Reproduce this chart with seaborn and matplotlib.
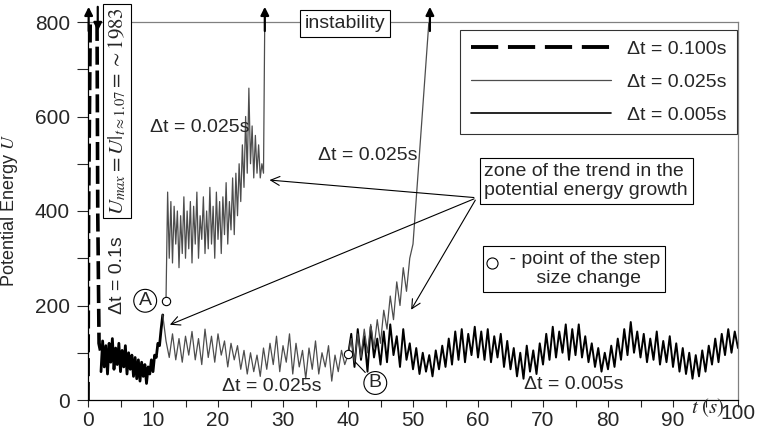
import numpy as np
import matplotlib
matplotlib.use("Agg")
import matplotlib.pyplot as plt
from matplotlib.lines import Line2D
import seaborn as sns

# ---- data ----
# dt = 0.1 s start-up spike (goes to ~1983 at t=1.07)
t_spike = [0.0, 0.1, 1.07, 1.5, 1.7, 2.0]
u_spike = [0, 400, 1983, 400, 120, 100]

# dt = 0.1 s noisy segment, t = 2 .. 11.5 step 0.25
t0_01, dt_01 = 2.0, 0.25
u_01 = [60, 125, 70, 115, 55, 120, 80, 130, 65, 110,
        75, 120, 60, 105, 70, 115, 55, 100, 65, 95,
        50, 90, 45, 85, 40, 80, 50, 75, 35, 70,
        55, 85, 60, 95, 90, 120, 115, 150, 180]

# dt = 0.025 s, lower branch after A, t = 11.5 .. 40 step 0.5
t0_low, dt_low = 11.5, 0.5
u_low = [180, 125, 90, 140, 85, 130, 80, 135, 95, 145,
         85, 130, 75, 150, 90, 135, 80, 140, 95, 125,
         70, 120, 85, 115, 65, 105, 55, 100, 60, 95,
         50, 110, 65, 120, 75, 135, 60, 115, 80, 140,
         55, 120, 70, 105, 45, 110, 65, 125, 55, 100,
         70, 115, 40, 95, 60, 105, 75, 95]

# dt = 0.025 s, unstable branch from A, t = 12 .. 27.25 step 0.25
t0_up, dt_up = 12.0, 0.25
u_up = [210, 440, 300, 420, 290, 410, 330, 400, 280,
        390, 310, 430, 300, 400, 320, 420, 290,
        410, 330, 440, 300, 390, 340, 430, 310,
        400, 320, 450, 330, 410, 300, 440, 340,
        420, 310, 430, 350, 460, 330, 420, 360,
        470, 350, 480, 390, 500, 420, 540, 450,
        600, 480, 660, 500, 580, 470, 560, 480,
        540, 470, 500, 480, 900]

# dt = 0.025 s, unstable branch from B
t_b = [40, 40.5, 41, 41.5, 42, 42.5, 43, 43.5, 44, 44.5, 45, 45.5, 46,
       46.5, 47, 47.5, 48, 48.5, 49, 49.5, 50, 52.6]
u_b = [97, 130, 80, 140, 90, 150, 100, 160, 110, 170, 120, 190, 150,
       220, 170, 250, 200, 280, 230, 300, 330, 830]

# dt = 0.005 s after B, t = 40 .. 100 step 0.5
t0_005, dt_005 = 40.0, 0.5
u_005 = [95, 140, 70, 150, 85, 135, 60, 155, 90, 130, 75,
         145, 80, 160, 95, 135, 70, 150, 85, 120, 65,
         110, 55, 100, 60, 95, 50, 105, 65, 115, 70,
         130, 75, 145, 85, 150, 80, 140, 95, 155, 90,
         145, 85, 150, 80, 135, 90, 140, 70, 125, 65,
         110, 50, 100, 45, 115, 60, 105, 55, 120, 75,
         140, 85, 155, 90, 145, 100, 160, 85, 150, 95,
         160, 90, 135, 80, 120, 70, 110, 60, 100, 65,
         115, 70, 130, 85, 150, 95, 165, 100, 145, 90,
         140, 80, 130, 85, 145, 75, 125, 80, 135, 70,
         120, 60, 110, 55, 100, 45, 95, 50, 105, 60,
         115, 75, 130, 80, 140, 95, 150, 100, 145, 110]

# step size change points (A, B)
t_change = [12.0, 40.0]
u_change = [210, 97]

legend_labels = ["Δt = 0.100s", "Δt = 0.025s", "Δt = 0.005s"]

# ---- plotting ----
sns.set_style("ticks")
plt.rcParams['font.family'] = ['Liberation Sans', 'DejaVu Sans']
plt.rcParams['mathtext.fontset'] = 'stix'

fig = plt.figure(figsize=(7.57, 4.38), dpi=100)
ax = fig.add_axes([88 / 757, 38 / 438, 650 / 757, 378 / 438])

grey = "#4d4d4d"
dash = (0, (5, 1.6))

sns.lineplot(x=t_spike, y=u_spike, ax=ax, color="black", lw=2.6,
             linestyle=dash, estimator=None, sort=False)
t_01 = t0_01 + dt_01 * np.arange(len(u_01))
sns.lineplot(x=t_01, y=u_01, ax=ax, color="black", lw=2.0, estimator=None, sort=False)
t_low = t0_low + dt_low * np.arange(len(u_low))
sns.lineplot(x=t_low, y=u_low, ax=ax, color=grey, lw=0.9, estimator=None, sort=False)
t_up = t0_up + dt_up * np.arange(len(u_up))
sns.lineplot(x=t_up, y=u_up, ax=ax, color=grey, lw=0.9, estimator=None, sort=False)
t_005 = t0_005 + dt_005 * np.arange(len(u_005))
sns.lineplot(x=t_005, y=u_005, ax=ax, color="black", lw=1.4, estimator=None, sort=False)
sns.lineplot(x=t_b, y=u_b, ax=ax, color=grey, lw=0.9, estimator=None, sort=False)
ax.plot(t_change, u_change, 'o', ms=6, mfc="white", mec="black", mew=0.8, zorder=5)

ax.set_xlim(0, 100)
ax.set_ylim(0, 800)
ax.set_xticks(np.arange(0, 101, 10))
ax.set_xticks(np.arange(0, 101, 5), minor=True)
ax.set_yticks(np.arange(0, 801, 200))
ax.set_yticks(np.arange(0, 801, 100), minor=True)
ax.tick_params(axis='x', which='both', direction='out', length=5, width=0.8, labelsize=15, pad=3)
ax.tick_params(axis='y', which='both', direction='out', length=8, width=0.8, labelsize=15, pad=5)
ax.xaxis.set_ticklabels(["0", "10", "20", "30", "40", "50", "60", "70", "80", "90", ""])
for s in ["top", "right"]:
    ax.spines[s].set_color("#808080")
    ax.spines[s].set_linewidth(0.9)
for s in ["left", "bottom"]:
    ax.spines[s].set_color("black")
    ax.spines[s].set_linewidth(0.9)

ax.set_ylabel(r"Potential Energy $U$", fontsize=13)
ax.yaxis.set_label_coords(-0.105, 0.5)
ax.set_xlabel("")
ax.text(95.3, -16, r"$t\ (s)$", fontsize=15, ha="center", va="center", clip_on=False)
ax.text(100, -28, "100", fontsize=15, ha="center", va="center", clip_on=False)

# arrows at the top (instability)
for x, up in [(0.1, True), (1.5, False), (27.2, True), (52.6, True)]:
    y0, y1 = (775, 838) if up else (838, 775)
    ax.annotate("", xy=(x, y1), xytext=(x, y0), annotation_clip=False,
                arrowprops=dict(arrowstyle="-|>", color="black", lw=1.6, mutation_scale=12))

box = dict(boxstyle="square,pad=0.25", fc="white", ec="black", lw=0.8)
ax.text(39.5, 797, "instability", fontsize=14, ha="center", va="center", bbox=box, zorder=6)

ax.text(4.5, 612, r"$U_{max} = U|_{t\approx1.07} = \sim1983$", fontsize=15, rotation=90,
        ha="center", va="center", bbox=dict(boxstyle="square,pad=0.15", fc="white", ec="black", lw=0.8))
ax.text(4.6, 265, "Δt = 0.1s", fontsize=14, rotation=90, ha="center", va="center")

ax.text(17.2, 576, "Δt = 0.025s", fontsize=14, ha="center", va="center")
ax.text(43.0, 518, "Δt = 0.025s", fontsize=14, ha="center", va="center")
ax.text(28.3, 28, "Δt = 0.025s", fontsize=14, ha="center", va="center")
ax.text(74.7, 32, "Δt = 0.005s", fontsize=14, ha="center", va="center")

circ = dict(boxstyle="circle,pad=0.15", fc="white", ec="black", lw=0.8)
ax.text(8.8, 210, "A", fontsize=14, ha="center", va="center", bbox=circ)
ax.annotate("B", xy=(40.8, 85), xytext=(44.2, 36), fontsize=14, ha="center", va="center",
            bbox=circ, arrowprops=dict(arrowstyle="-", color="black", lw=0.8))

# zone of the trend
ax.text(61.0, 502, "zone of the trend in the\npotential energy growth", fontsize=14,
        ha="left", va="top", bbox=box, zorder=6)
for tx, ty in [(27.5, 466), (12.2, 157), (49.5, 186)]:
    ax.annotate("", xy=(tx, ty), xytext=(59.8, 428),
                arrowprops=dict(arrowstyle="->", color="black", lw=0.8, mutation_scale=16))

# step size change box
ax.text(61.5, 316, "    - point of the step\n         size change", fontsize=14,
        ha="left", va="top", bbox=box, zorder=6)
ax.plot([62.2], [290], 'o', ms=8, mfc="white", mec="black", mew=0.8, zorder=7)

handles = [
    Line2D([], [], color="black", lw=2.8, linestyle=(0, (7, 2.5))),
    Line2D([], [], color=grey, lw=0.9),
    Line2D([], [], color="black", lw=1.2),
]
leg = ax.legend(handles, legend_labels, loc="upper right", bbox_to_anchor=(0.998, 0.979),
                borderaxespad=0, fontsize=14, handlelength=7.2, labelspacing=0.78,
                borderpad=0.55, frameon=True, fancybox=False, edgecolor="black")
leg.get_frame().set_linewidth(0.8)

fig.savefig("out.png", dpi=100)
